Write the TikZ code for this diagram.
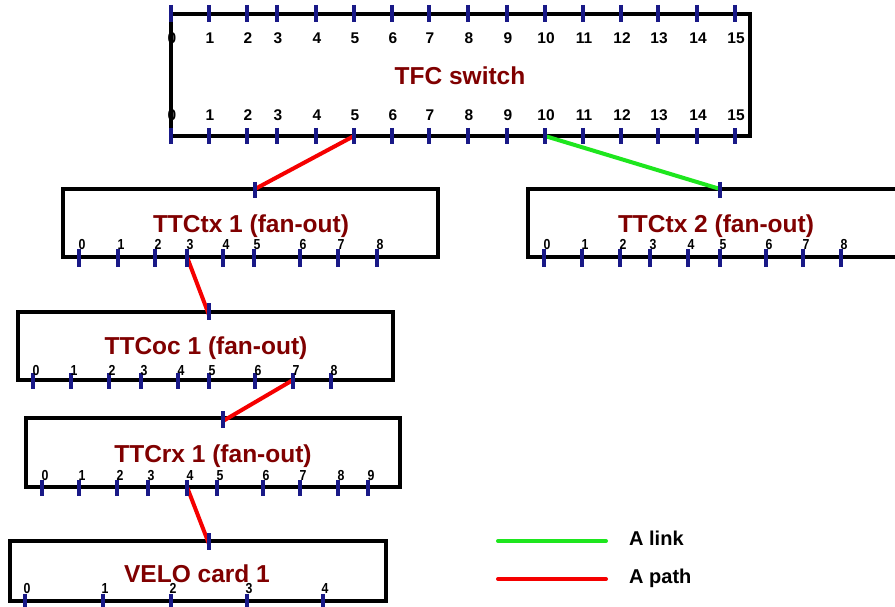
\documentclass[tikz,border=0pt]{standalone}
\usepackage{fontspec}
\setmainfont{Liberation Sans}
\definecolor{tickblue}{RGB}{25,25,135}
\definecolor{titlered}{RGB}{128,0,0}
\definecolor{linkgreen}{RGB}{30,230,30}
\definecolor{pathred}{RGB}{245,0,0}
\newcommand\narrowdig[1]{\scalebox{0.85}[1]{#1}}
\begin{document}
\begin{tikzpicture}[x=1pt,y=-1pt,
  box/.style={draw=black, line width=3.3pt, inner sep=0pt},
  tickmark/.style={draw=tickblue, line width=3.3pt},
  title/.style={text=titlered, font=\bfseries\fontsize{24.5}{24.5}\selectfont, anchor=base, inner sep=0pt},
  bigdig/.style={font=\bfseries\fontsize{15.5}{15.5}\selectfont, anchor=base, inner sep=0pt},
  smalldig/.style={font=\bfseries\fontsize{14.5}{14.5}\selectfont, anchor=base, inner sep=0pt},
  linkline/.style={draw=linkgreen, line width=4pt},
  pathline/.style={draw=pathred, line width=4pt},
  legendtext/.style={font=\bfseries\fontsize{20}{20}\selectfont, anchor=base west, inner sep=0pt}]
\useasboundingbox (0,0) rectangle (895,607);
\clip (0,0) rectangle (895,607);
\fill[white] (0,0) rectangle (895,607);

% boxes
\node[box, minimum width=579pt, minimum height=122pt] (tfc) at (460.5,75) {};
\node[box, minimum width=375pt, minimum height=68pt] (tx1) at (250.5,223) {};
\node[box, minimum width=472pt, minimum height=68pt] (tx2) at (764,223) {};
\node[box, minimum width=375pt, minimum height=68pt] (oc1) at (205.5,346) {};
\node[box, minimum width=374pt, minimum height=69pt] (rx1) at (213,452.5) {};
\node[box, minimum width=376pt, minimum height=60pt] (velo) at (198,571) {};

% titles
\node[title] (tfcT) at (460,85) {TFC switch};
\node[title] (tx1T) at (251,233) {TTCtx 1 (fan-out)};
\node[title] (tx2T) at (716,233) {TTCtx 2 (fan-out)};
\node[title] (oc1T) at (206,354) {TTCoc 1 (fan-out)};
\node[title] (rx1T) at (213,462) {TTCrx 1 (fan-out)};
\node[title] (veloT) at (197,582) {VELO card 1};

% port coordinates
\coordinate (tfcP5) at (354,136);
\coordinate (tfcP10) at (545,136);
\coordinate (tx1In) at (255,189);
\coordinate (tx2In) at (720,189);
\coordinate (tx1P3) at (187,257);
\coordinate (oc1In) at (209,315);
\coordinate (oc1P7) at (293,380);
\coordinate (rx1In) at (223,421);
\coordinate (rx1P4) at (187,487);
\coordinate (veloIn) at (209,544);

% connectors
\draw[pathline] (tfcP5) -- (tx1In);
\draw[linkline] (tfcP10) -- (tx2In);
\draw[pathline] (tx1P3) -- (oc1In);
\draw[pathline] (oc1P7) -- (rx1In);
\draw[pathline] (rx1P4) -- (veloIn);

% TFC ticks and labels
\foreach \x [count=\i from 0] in {171,209,247,277,316,354,392,429,468,507,545,583,621,658,697,735} {
  \draw[tickmark] (\x,5) -- (\x,22);
  \draw[tickmark] (\x,128) -- (\x,144);
  \node[bigdig] (tfcU\i) at (\x+1,44) {\i};
  \node[bigdig] (tfcL\i) at (\x+1,121) {\i};
}
% input ticks
\draw[tickmark] (255,182) -- (255,198);
\draw[tickmark] (720,182) -- (720,198);
\draw[tickmark] (209,303) -- (209,320);
\draw[tickmark] (223,411) -- (223,428);
\draw[tickmark] (209,533) -- (209,550);

% TTCtx 1
\foreach \x [count=\i from 0] in {79,118,155,187,223,254,300,338,377} {
  \draw[tickmark] (\x,249) -- (\x,267);
  \node[smalldig] (tx1L\i) at (\x+3,250) {\narrowdig{\i}};
}
% TTCtx 2
\foreach \x [count=\i from 0] in {544,582,620,650,688,720,766,803,841} {
  \draw[tickmark] (\x,249) -- (\x,267);
  \node[smalldig] (tx2L\i) at (\x+3,250) {\narrowdig{\i}};
}
% TTCoc 1
\foreach \x [count=\i from 0] in {33,71,109,141,178,209,255,293,331} {
  \draw[tickmark] (\x,373) -- (\x,389);
  \node[smalldig] (oc1L\i) at (\x+3,375) {\narrowdig{\i}};
}
% TTCrx 1
\foreach \x [count=\i from 0] in {42,79,117,148,187,217,263,300,338,368} {
  \draw[tickmark] (\x,480) -- (\x,496);
  \node[smalldig] (rx1L\i) at (\x+3,480) {\narrowdig{\i}};
}
% VELO card
\foreach \x [count=\i from 0] in {25,103,171,247,323} {
  \draw[tickmark] (\x,594) -- (\x,612);
  \node[smalldig] (veloL\i) at (\x+2,593) {\narrowdig{\i}};
}

% legend
\coordinate (lgA) at (498,541);
\coordinate (lgB) at (606,541);
\coordinate (lpA) at (498,579);
\coordinate (lpB) at (606,579);
\draw[linkline, line cap=round] (lgA) -- (lgB);
\draw[pathline, line cap=round] (lpA) -- (lpB);
\node[legendtext] (lgT) at (629,545) {A link};
\node[legendtext] (lpT) at (629,583) {A path};
\end{tikzpicture}
\end{document}
